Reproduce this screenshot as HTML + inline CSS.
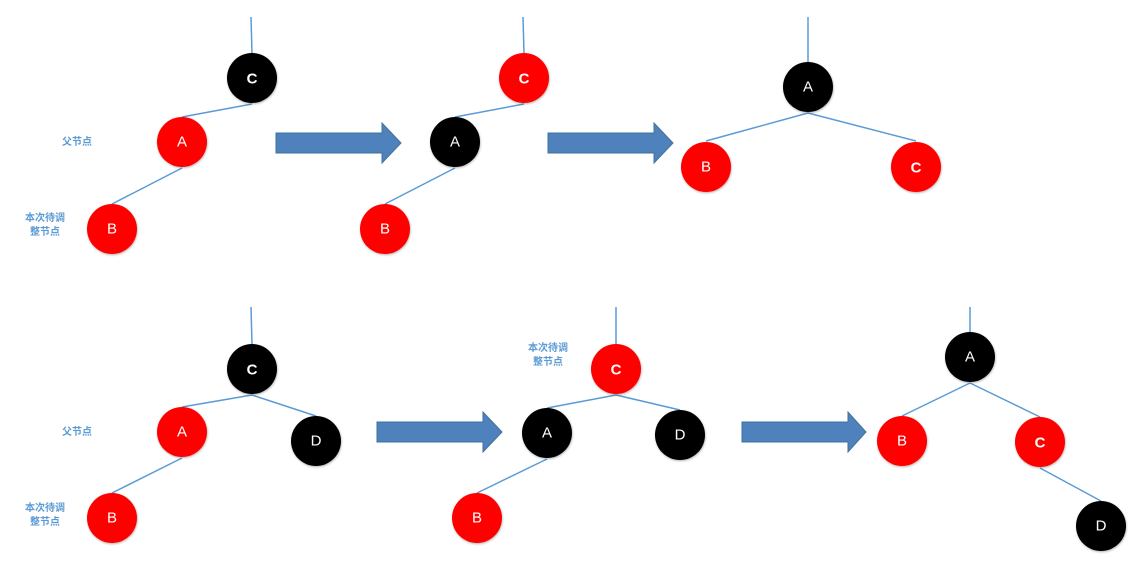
<!DOCTYPE html>
<html><head><meta charset="utf-8"><style>
html,body{margin:0;padding:0;background:#fff;}
svg{display:block;}
.l{stroke:#5b9bd5;stroke-width:1.5;fill:none;}
.t{font-family:"Liberation Sans","Noto Sans CJK SC",sans-serif;font-size:15px;fill:#fff;text-anchor:middle;dominant-baseline:central;}
.b{font-weight:bold;}
.lb{font-family:"Noto Sans CJK SC","WenQuanYi Zen Hei",sans-serif;font-size:10px;font-weight:bold;fill:#5b9bd5;text-anchor:middle;}
.ar{fill:#4f81bd;stroke:#41719c;stroke-width:1;}
</style></head><body>
<svg width="1137" height="569" viewBox="0 0 1137 569" xmlns="http://www.w3.org/2000/svg">
<defs><filter id="s" x="-20%" y="-20%" width="140%" height="140%"><feDropShadow dx="0.5" dy="1" stdDeviation="1" flood-color="#000" flood-opacity="0.3"/></filter></defs>
<!-- lines -->
<g class="l">
<line x1="251" y1="17" x2="252" y2="53"/><line x1="252" y1="104" x2="182" y2="117"/><line x1="182" y1="168" x2="112" y2="204"/>
<line x1="523" y1="17" x2="524" y2="53"/><line x1="524" y1="104" x2="455" y2="117"/><line x1="455" y1="168" x2="385" y2="204"/>
<line x1="808" y1="17" x2="808" y2="62"/><line x1="808" y1="113" x2="706" y2="141"/><line x1="808" y1="113" x2="916" y2="141"/>
<line x1="251" y1="307" x2="252" y2="344"/><line x1="252" y1="395" x2="182" y2="407"/><line x1="252" y1="395" x2="316" y2="416"/><line x1="182" y1="458" x2="112" y2="493"/>
<line x1="616" y1="307" x2="616" y2="344"/><line x1="616" y1="395" x2="547" y2="408"/><line x1="616" y1="395" x2="680" y2="410"/><line x1="547" y1="459" x2="477" y2="493"/>
<line x1="970" y1="307" x2="970" y2="332"/><line x1="970" y1="383" x2="902" y2="416"/><line x1="970" y1="383" x2="1040" y2="417"/><line x1="1040" y1="468" x2="1101" y2="501"/>
</g>
<!-- arrows -->
<polygon class="ar" points="276,133 382,133 382,123 401,143 382,163 382,153 276,153"/>
<polygon class="ar" points="548,133 654,133 654,123 673,143 654,163 654,153 548,153"/>
<polygon class="ar" points="377,422 483,422 483,412 502,432 483,452 483,442 377,442"/>
<polygon class="ar" points="742,422 848,422 848,412 866,432 848,452 848,442 742,442"/>
<!-- nodes -->
<g filter="url(#s)">
<circle cx="252" cy="78" r="25" fill="#000"/><circle cx="182" cy="142" r="25" fill="#f00"/><circle cx="112" cy="229" r="25" fill="#f00"/>
<circle cx="524" cy="78" r="25" fill="#f00"/><circle cx="455" cy="142" r="25" fill="#000"/><circle cx="385" cy="229" r="25" fill="#f00"/>
<circle cx="808" cy="87" r="25" fill="#000"/><circle cx="706" cy="167" r="25" fill="#f00"/><circle cx="916" cy="167" r="25" fill="#f00"/>
<circle cx="252" cy="369" r="25" fill="#000"/><circle cx="182" cy="432" r="25" fill="#f00"/><circle cx="316" cy="441" r="25" fill="#000"/><circle cx="112" cy="518" r="25" fill="#f00"/>
<circle cx="616" cy="369" r="25" fill="#f00"/><circle cx="547" cy="433" r="25" fill="#000"/><circle cx="680" cy="435" r="25" fill="#000"/><circle cx="477" cy="518" r="25" fill="#f00"/>
<circle cx="970" cy="357" r="25" fill="#000"/><circle cx="902" cy="441" r="25" fill="#f00"/><circle cx="1040" cy="442" r="25" fill="#f00"/><circle cx="1101" cy="526" r="25" fill="#000"/>
</g>
<text class="t b" x="252" y="79">C</text><text class="t" x="182" y="142">A</text><text class="t" x="112" y="229">B</text>
<text class="t b" x="524" y="79">C</text><text class="t" x="455" y="142">A</text><text class="t" x="385" y="229">B</text>
<text class="t" x="808" y="87">A</text><text class="t" x="706" y="167">B</text><text class="t b" x="916" y="168">C</text>
<text class="t b" x="252" y="370">C</text><text class="t" x="182" y="432">A</text><text class="t" x="316" y="441">D</text><text class="t" x="112" y="518">B</text>
<text class="t b" x="616" y="370">C</text><text class="t" x="547" y="433">A</text><text class="t" x="680" y="435">D</text><text class="t" x="477" y="518">B</text>
<text class="t" x="970" y="357">A</text><text class="t" x="902" y="441">B</text><text class="t b" x="1040" y="443">C</text><text class="t" x="1101" y="526">D</text>
<!-- labels -->
<text class="lb" x="77" y="145">父节点</text>
<text class="lb" x="45" y="221">本次待调</text><text class="lb" x="45" y="235">整节点</text>
<text class="lb" x="77" y="435">父节点</text>
<text class="lb" x="45" y="511">本次待调</text><text class="lb" x="45" y="525">整节点</text>
<text class="lb" x="548" y="351">本次待调</text><text class="lb" x="548" y="365">整节点</text>
</svg>
</body></html>
